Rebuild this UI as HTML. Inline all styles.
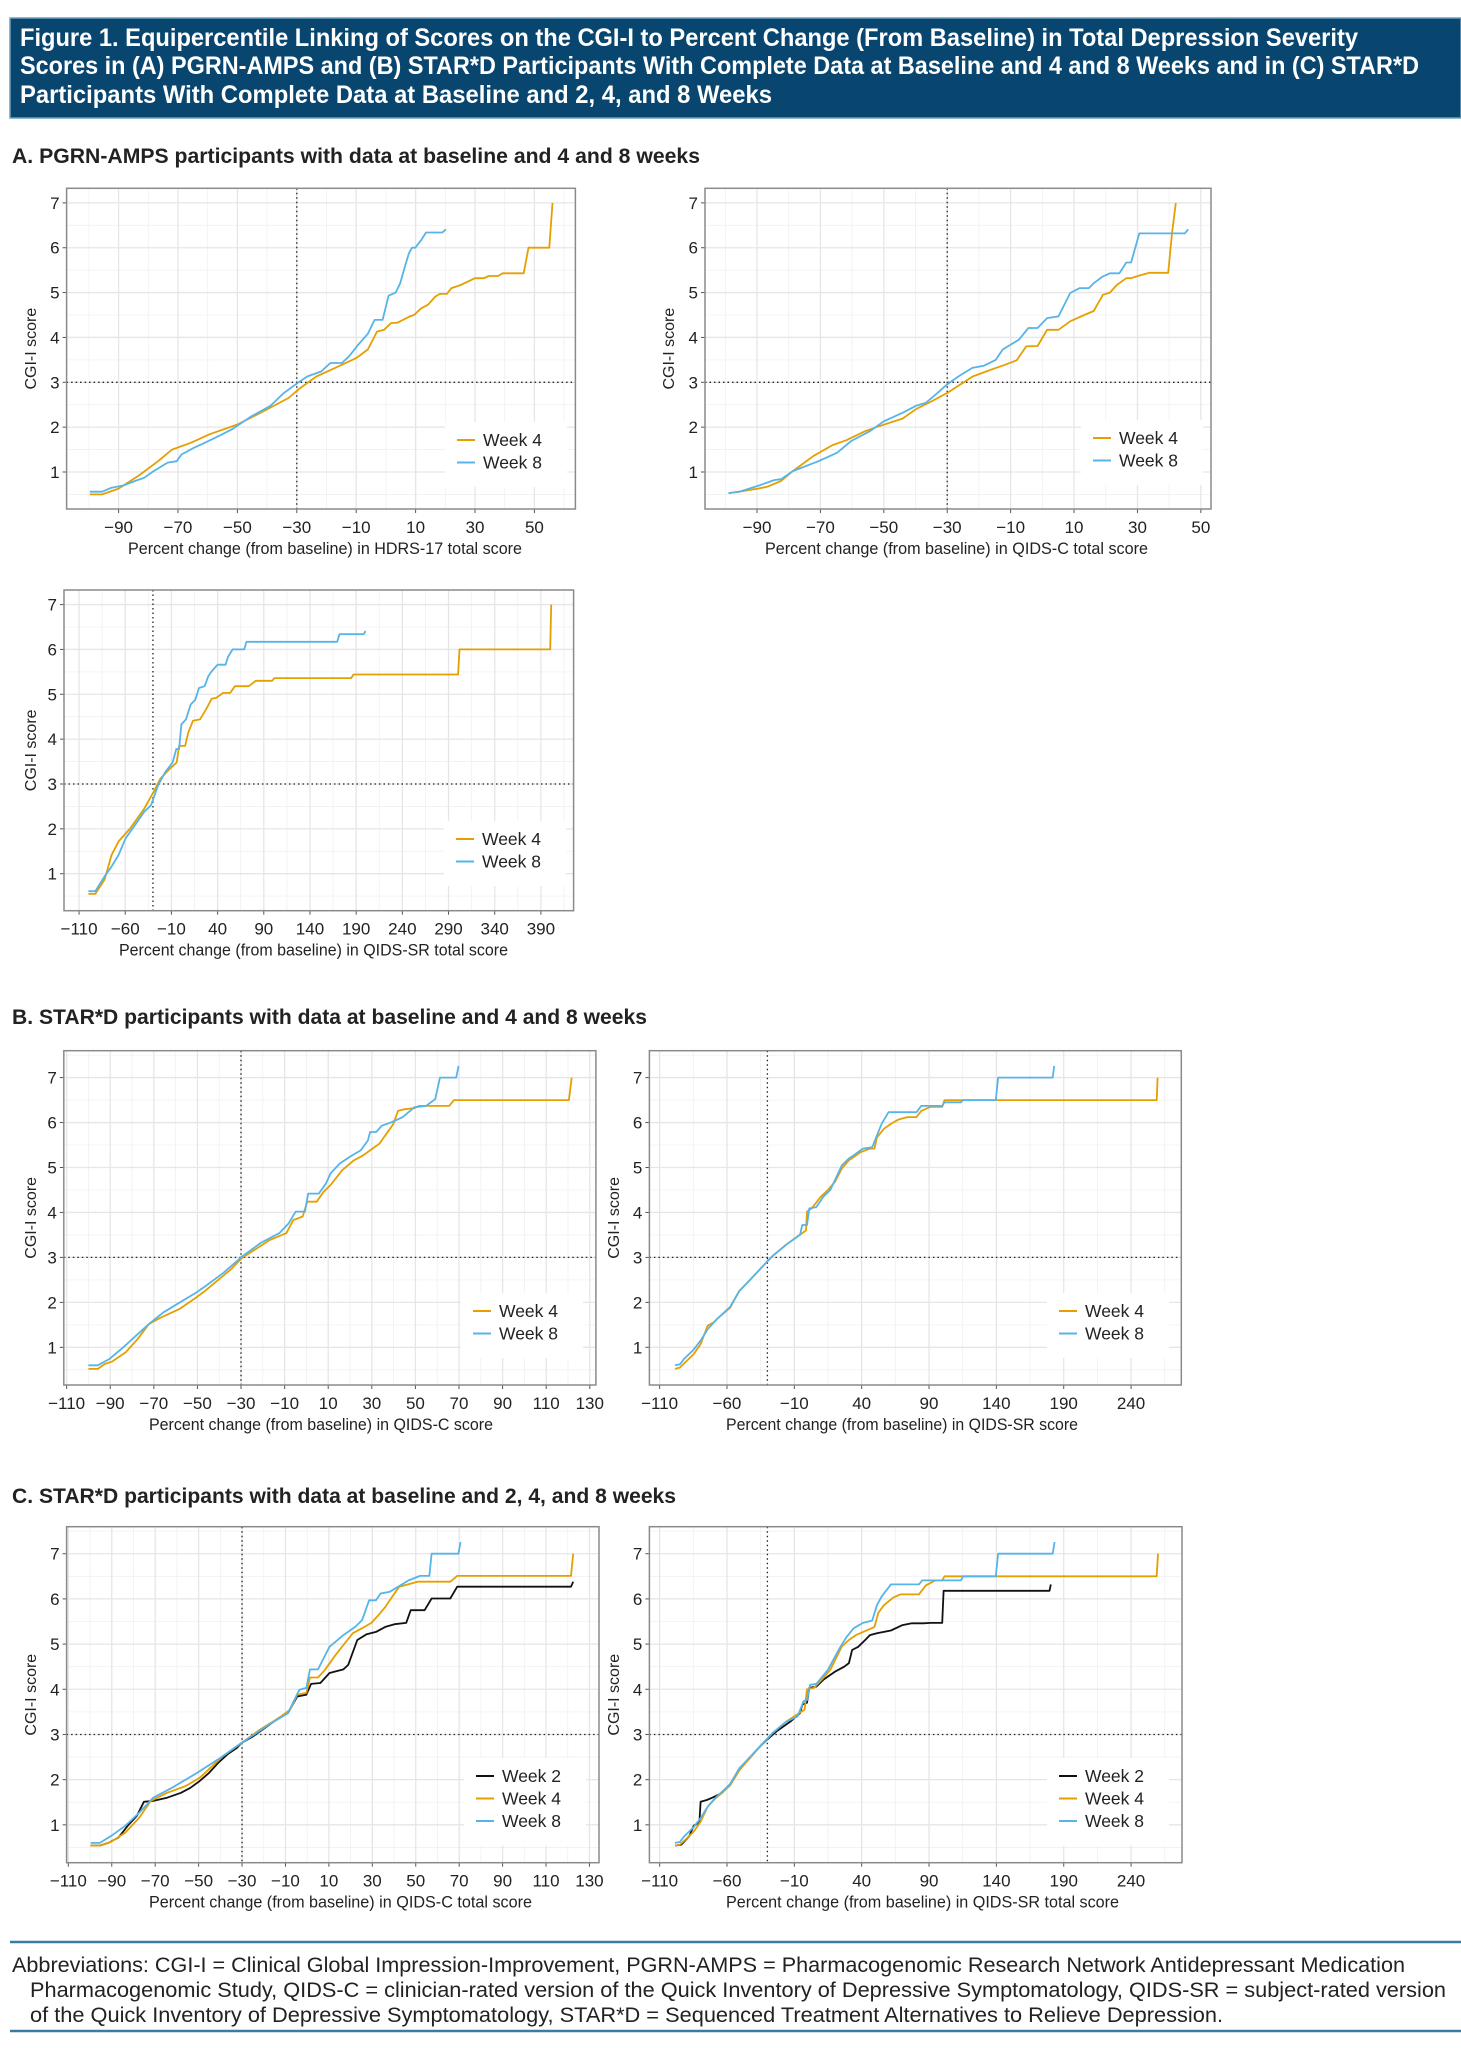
<!DOCTYPE html>
<html><head><meta charset="utf-8">
<style>
html,body{margin:0;padding:0;background:#fff;}
svg{display:block;font-family:"Liberation Sans",sans-serif;}
</style></head>
<body>
<svg id="fig" width="1461" height="2048" viewBox="0 0 1461 2048" xmlns="http://www.w3.org/2000/svg">
<rect x="10" y="18" width="1451" height="100" fill="#08466f" stroke="#6f9fc0" stroke-width="1.5"/>
<g fill="#fff" font-weight="bold" font-size="25">
<text x="20" y="46" textLength="1338" lengthAdjust="spacingAndGlyphs">Figure 1. Equipercentile Linking of Scores on the CGI-I to Percent Change (From Baseline) in Total Depression Severity</text>
<text x="20" y="74" textLength="1399" lengthAdjust="spacingAndGlyphs">Scores in (A) PGRN-AMPS and (B) STAR*D Participants With Complete Data at Baseline and 4 and 8 Weeks and in (C) STAR*D</text>
<text x="20" y="103" textLength="752" lengthAdjust="spacingAndGlyphs">Participants With Complete Data at Baseline and 2, 4, and 8 Weeks</text>
</g>
<text x="12" y="163" font-size="21" font-weight="bold" fill="#222" textLength="688" lengthAdjust="spacingAndGlyphs">A. PGRN-AMPS participants with data at baseline and 4 and 8 weeks</text>
<text x="12" y="1024" font-size="21" font-weight="bold" fill="#222" textLength="635" lengthAdjust="spacingAndGlyphs">B. STAR*D participants with data at baseline and 4 and 8 weeks</text>
<text x="12" y="1503" font-size="21" font-weight="bold" fill="#222" textLength="664" lengthAdjust="spacingAndGlyphs">C. STAR*D participants with data at baseline and 2, 4, and 8 weeks</text>
<line x1="10" y1="1942" x2="1461" y2="1942" stroke="#3b7aa3" stroke-width="2.5"/>
<line x1="10" y1="2031" x2="1461" y2="2031" stroke="#3b7aa3" stroke-width="2.5"/>
<g font-size="21" fill="#222">
<text x="12" y="1972" textLength="1393" lengthAdjust="spacingAndGlyphs">Abbreviations: CGI-I = Clinical Global Impression-Improvement, PGRN-AMPS = Pharmacogenomic Research Network Antidepressant Medication</text>
<text x="30" y="1997" textLength="1416" lengthAdjust="spacingAndGlyphs">Pharmacogenomic Study, QIDS-C = clinician-rated version of the Quick Inventory of Depressive Symptomatology, QIDS-SR = subject-rated version</text>
<text x="30" y="2022" textLength="1193" lengthAdjust="spacingAndGlyphs">of the Quick Inventory of Depressive Symptomatology, STAR*D = Sequenced Treatment Alternatives to Relieve Depression.</text>
</g>
</svg>
<script>
// ---------- DATA ----------
const seriesNames = ["Week 2","Week 4","Week 8"];
const yTicks = [1,2,3,4,5,6,7];
const xTicksA1 = [-90,-70,-50,-30,-10,10,30,50];
const xTicksA3 = [-110,-60,-10,40,90,140,190,240,290,340,390];
const xTicksC = [-110,-90,-70,-50,-30,-10,10,30,50,70,90,110,130];
const xTicksSR = [-110,-60,-10,40,90,140,190,240];

// A1 HDRS-17
const a1w4x = [-99.7,-95.5,-90,-83,-76.7,-72,-65.7,-59.4,-50,-42.2,-32.8,-28.9,-23.4,-17.1,-10,-6.1,-3,-0.6,1.7,4,8,9.5,11.9,14.2,16.6,18.2,20.5,22.1,25.2,30,33,34.6,37.8,39.3,46.4,48,55,56.1];
const a1w4y = [0.5,0.5,0.63,0.93,1.24,1.5,1.65,1.84,2.06,2.32,2.65,2.87,3.13,3.32,3.54,3.73,4.13,4.17,4.32,4.33,4.47,4.5,4.65,4.73,4.91,4.97,4.97,5.1,5.17,5.32,5.32,5.37,5.37,5.43,5.43,6.0,6.0,7.0];
const a1w8x = [-99.7,-95.5,-92.4,-88.4,-84.5,-81.4,-78.2,-73.5,-70.4,-68.8,-64.9,-61,-56.3,-51.6,-45.3,-39,-34.4,-29.6,-26.5,-21.8,-18.7,-14.8,-12.4,-9.3,-6.1,-3.8,-1.1,0.9,3.3,4.8,6.4,7.7,8.8,9.9,11.9,13.5,19,20.2];
const a1w8y = [0.56,0.56,0.65,0.7,0.8,0.87,1.02,1.21,1.24,1.39,1.53,1.65,1.8,1.96,2.24,2.47,2.76,2.99,3.13,3.24,3.43,3.43,3.58,3.84,4.08,4.39,4.39,4.93,5.0,5.21,5.58,5.87,6.0,6.0,6.17,6.34,6.34,6.41];
// A2 QIDS-C
const a2w4x = [-99,-95.6,-89.7,-86.8,-82.4,-78.7,-72.1,-66.2,-61.8,-55.9,-51.5,-44.1,-39.7,-35.3,-30.1,-25,-22,-16.2,-11.8,-8.1,-5.1,-1.5,1.5,5.1,8.8,13.2,16.2,19.1,21.3,23.5,26.5,28,30.1,33.8,39.7,40.9,42.1];
const a2w4y = [0.53,0.56,0.63,0.67,0.8,1.02,1.36,1.6,1.71,1.91,2.02,2.19,2.41,2.56,2.76,2.99,3.13,3.28,3.39,3.49,3.8,3.81,4.17,4.17,4.36,4.5,4.59,4.95,5.0,5.17,5.32,5.32,5.37,5.44,5.44,6.32,7.0];
const a2w8x = [-99,-95.6,-89.7,-84.6,-82.4,-78.7,-70.6,-64.7,-60.3,-54.4,-50,-44.1,-39.7,-36.8,-33.1,-30.1,-26.5,-22.1,-18.4,-14.7,-12.5,-7.4,-4.4,-1.5,1.5,5.1,8.8,11.8,14.7,16.2,19.1,21.3,24.3,26.5,28,30.6,44.9,46];
const a2w8y = [0.53,0.56,0.69,0.82,0.84,1.02,1.24,1.43,1.69,1.91,2.13,2.32,2.48,2.54,2.76,2.95,3.13,3.32,3.37,3.5,3.73,3.95,4.21,4.21,4.43,4.47,4.99,5.1,5.1,5.21,5.36,5.43,5.43,5.67,5.67,6.32,6.32,6.41];
// A3 QIDS-SR
const a3w4x = [-99.9,-92.4,-82.3,-74.8,-67.2,-54.6,-39.5,-29.4,-21.9,-11.8,-4.3,-1.7,4.8,8.3,13.4,20.9,28.5,33.5,38.5,46.1,53.6,58.7,73.8,81.3,99,101.5,184.6,187.1,300.4,301.9,400.1,401.1];
const a3w4y = [0.55,0.55,0.87,1.42,1.72,2.01,2.45,2.82,3.12,3.34,3.48,3.85,3.85,4.15,4.41,4.44,4.7,4.9,4.92,5.03,5.03,5.18,5.18,5.3,5.3,5.36,5.36,5.44,5.44,6.0,6.0,7.0];
const a3w8x = [-99.9,-92.4,-82.3,-74.8,-67.2,-59.6,-49.6,-39.5,-32,-24.4,-16.8,-8.7,-4.7,-1.7,0.8,5.8,10.8,15.9,19.9,25.9,29.9,33.5,40,48.6,51.1,56.2,68.8,71.3,169.5,172,198.2,200.2];
const a3w8y = [0.61,0.61,0.94,1.16,1.42,1.79,2.08,2.38,2.53,2.97,3.26,3.48,3.78,3.78,4.33,4.44,4.77,4.88,5.14,5.18,5.4,5.51,5.66,5.66,5.83,6.0,6.0,6.17,6.17,6.34,6.34,6.41];
// B1 QIDS-C
const b1w4x = [-100,-95.7,-92.5,-89.3,-82.9,-77.5,-72.2,-66.9,-58.3,-50.8,-46.6,-40.2,-34.8,-29.5,-23.1,-16.7,-9.2,-6,-1.7,0.4,4.7,7.9,11.1,16.4,21.8,26,29.2,33.5,36.7,39.9,42,45.2,49.5,51.6,65.5,67.7,120.4,121.7];
const b1w4y = [0.52,0.52,0.63,0.68,0.89,1.18,1.52,1.66,1.85,2.1,2.25,2.51,2.73,2.99,3.19,3.39,3.54,3.83,3.91,4.24,4.24,4.46,4.61,4.94,5.16,5.27,5.38,5.53,5.75,5.97,6.26,6.3,6.32,6.37,6.37,6.5,6.5,7.0];
const b1w8x = [-100,-95.7,-90.4,-84,-77.5,-72.2,-65.8,-59.4,-50.8,-46.6,-38,-29.5,-21,-12.4,-8.1,-4.9,-0.7,0.8,5.7,8.9,11.1,15.3,19.6,24.9,28.2,29.2,32,34.6,38.8,44.2,49.5,54.9,59.1,61.3,68.7,69.8];
const b1w8y = [0.6,0.6,0.74,1.0,1.29,1.52,1.77,1.96,2.21,2.35,2.66,3.02,3.32,3.54,3.76,4.02,4.02,4.42,4.42,4.64,4.87,5.09,5.23,5.38,5.6,5.79,5.79,5.93,6.0,6.12,6.34,6.37,6.52,7.0,7.0,7.26];
// B2 QIDS-SR
const b2w4x = [-98.6,-95,-91.6,-84.7,-79.6,-74.4,-70,-67.4,-57.7,-50.9,-43.9,-33.5,-26.6,-16.2,-7.6,-4.1,-1.3,-0.6,2.8,9.7,14.9,20.1,25.3,30.5,34,39.2,46.1,49.5,51.3,56.5,61.7,66.9,73.8,80.7,84.2,91.1,99.8,101.5,259,259.7];
const b2w4y = [0.52,0.55,0.65,0.85,1.07,1.48,1.55,1.63,1.88,2.25,2.47,2.8,3.02,3.28,3.47,3.54,3.6,4.02,4.09,4.35,4.5,4.68,4.98,5.16,5.23,5.34,5.42,5.42,5.67,5.86,5.97,6.06,6.12,6.12,6.26,6.35,6.35,6.5,6.5,7.0];
const b2w8x = [-98.6,-95,-91.6,-84.7,-79.6,-74.4,-67.4,-57.7,-50.9,-43.9,-33.5,-26.6,-16.2,-5.8,-4.1,-0.6,1.1,6.3,11.5,16.7,25.3,30.5,34,40.9,47.8,51.3,54.8,59.9,80.7,84.2,99.8,101.5,113.6,115.3,139.6,141.3,181.8,182.9];
const b2w8y = [0.6,0.62,0.75,0.95,1.15,1.4,1.63,1.9,2.25,2.47,2.8,3.02,3.28,3.5,3.72,3.72,4.09,4.12,4.35,4.5,5.05,5.2,5.27,5.42,5.45,5.71,5.97,6.23,6.23,6.37,6.37,6.45,6.45,6.5,6.5,7.0,7.0,7.26];
// C1 QIDS-C
const c1w2x = [-99.7,-95.5,-91.2,-86.9,-82.6,-78.4,-75.2,-70.9,-64.5,-58.1,-53.8,-49.5,-45.2,-41,-36.7,-32.4,-30.3,-24.9,-19.6,-13.2,-8.9,-4.6,-0.4,1.8,6.1,10.3,16.7,18.9,23.1,27.4,31.7,36,40.2,45.6,47.7,54.1,57.3,65.9,69.1,121.5,122.5];
const c1w2y = [0.54,0.54,0.61,0.72,0.98,1.2,1.51,1.53,1.6,1.71,1.82,1.97,2.15,2.37,2.56,2.7,2.81,2.96,3.14,3.36,3.47,3.84,3.88,4.12,4.14,4.36,4.44,4.54,5.09,5.22,5.27,5.38,5.44,5.47,5.75,5.75,6.01,6.01,6.27,6.27,6.38];
const c1w4x = [-99.7,-95.5,-90.1,-83.7,-77.3,-72,-64.5,-55.9,-49.5,-38.8,-30.3,-21.7,-13.2,-7.8,-4.6,-0.4,1.3,5,8.2,12.5,16.7,21,26.4,29.6,32.8,36,39.2,42.4,50.9,65.9,69.1,121.5,122.5];
const c1w4y = [0.54,0.54,0.63,0.83,1.16,1.53,1.71,1.86,2.04,2.52,2.81,3.11,3.36,3.55,3.88,3.92,4.26,4.26,4.43,4.72,4.98,5.24,5.38,5.47,5.64,5.82,6.05,6.27,6.38,6.38,6.51,6.51,7.0];
const c1w8x = [-99.7,-95.5,-90.1,-83.7,-77.3,-70.9,-62.3,-51.7,-41,-30.3,-17.5,-8.9,-3.6,-0.4,1.3,5,10.3,16.7,22.1,25.3,28.5,31.7,33.8,38.1,46.7,52,56.3,57.3,69.7,70.6];
const c1w8y = [0.6,0.6,0.76,0.98,1.27,1.6,1.82,2.12,2.45,2.81,3.22,3.47,3.99,4.03,4.44,4.44,4.94,5.2,5.38,5.53,5.97,5.97,6.12,6.16,6.41,6.51,6.51,7.0,7.0,7.26];
// C2 QIDS-SR
const c2w2x = [-98.6,-94,-88,-84.7,-80.5,-79.6,-75,-70.9,-64,-57.7,-50.9,-43.9,-38.7,-35.3,-30.1,-23.2,-12.8,-5.8,-4.1,-0.6,1.1,6.3,11.5,20.1,27,30.5,32.9,37.4,42.6,46.1,51.3,61.7,70.3,77.3,85.9,91.1,99.8,100.8,179.4,180.4];
const c2w2y = [0.54,0.56,0.75,0.98,1.05,1.51,1.55,1.6,1.7,1.9,2.23,2.45,2.63,2.74,2.89,3.07,3.29,3.47,3.66,3.7,4.03,4.06,4.21,4.39,4.5,4.58,4.87,4.94,5.09,5.2,5.24,5.3,5.42,5.46,5.46,5.47,5.47,6.18,6.18,6.32];
const c2w4x = [-98.6,-95,-91.6,-84.7,-79.6,-74.4,-70,-64,-57.7,-50.9,-43.9,-33.5,-26.6,-16.2,-7.6,-2.4,-0.6,4.5,11.5,16.7,25.3,30.5,35.7,44.3,49.5,52.3,56.5,63.4,68.6,82.5,87.6,94.6,99.8,101.5,259,260];
const c2w4y = [0.54,0.56,0.65,0.85,1.07,1.4,1.55,1.7,1.87,2.2,2.45,2.8,3.02,3.28,3.45,3.55,4.0,4.03,4.25,4.43,4.95,5.09,5.2,5.31,5.38,5.69,5.86,6.03,6.1,6.1,6.3,6.41,6.41,6.5,6.5,7.0];
const c2w8x = [-98.6,-95,-91.6,-84.7,-79.6,-74.4,-67.4,-57.7,-50.9,-43.9,-33.5,-26.6,-16.2,-7.6,-3.1,-0.6,1.8,6.3,14.9,23.6,28.8,34,40.9,47.8,51.3,54.8,61.7,82.5,84.9,113.6,115.3,139.6,141.3,181.8,183.2];
const c2w8y = [0.6,0.62,0.75,0.95,1.15,1.4,1.63,1.9,2.25,2.47,2.8,3.02,3.28,3.4,3.74,3.76,4.1,4.12,4.43,4.91,5.16,5.35,5.47,5.52,5.86,6.05,6.32,6.32,6.41,6.41,6.5,6.5,7.0,7.0,7.26];

// ---------- DRAWING ----------
const NS = "http://www.w3.org/2000/svg";
const svg = document.getElementById("fig");
const COLORS = {"Week 2":"#111111","Week 4":"#E69F00","Week 8":"#56B4E9"};

function mk(tag, attrs, parent){
  const e = document.createElementNS(NS, tag);
  for (const k in attrs) e.setAttribute(k, attrs[k]);
  (parent||svg).appendChild(e);
  return e;
}

function panel(p){
  const g = mk("g", {});
  
  
  const sx = v => p.x0 + (v - p.xd[0]) / (p.xd[1]-p.xd[0]) * (p.x1-p.x0);
  const sy = v => p.y1 - (v - p.yd[0]) / (p.yd[1]-p.yd[0]) * (p.y1-p.y0);
  mk("rect", {x:p.x0, y:p.y0, width:p.x1-p.x0, height:p.y1-p.y0, fill:"#fff"}, g);
  const step = p.xt[1]-p.xt[0];
  for (let v = p.xt[0]-step/2; v <= p.xd[1]; v += step){
    if (v < p.xd[0]) continue;
    mk("line", {x1:sx(v), x2:sx(v), y1:p.y0, y2:p.y1, stroke:"#f0f0f0", "stroke-width":0.8}, g);
  }
  for (let v = 0.5; v <= p.yd[1]; v += 1){
    if (v < p.yd[0]) continue;
    mk("line", {x1:p.x0, x2:p.x1, y1:sy(v), y2:sy(v), stroke:"#f0f0f0", "stroke-width":0.8}, g);
  }
  p.xt.forEach(v => {
    if (v < p.xd[0] || v > p.xd[1]) return;
    mk("line", {x1:sx(v), x2:sx(v), y1:p.y0, y2:p.y1, stroke:"#e6e6e6", "stroke-width":1.3}, g);
    mk("line", {x1:sx(v), x2:sx(v), y1:p.y1, y2:p.y1+4, stroke:"#555", "stroke-width":1}, g);
    const t = mk("text", {x:sx(v), y:p.y1+24, "text-anchor":"middle", "font-size":17, fill:"#222"}, g);
    
    
    t.textContent = v < 0 ? "\u2212" + Math.abs(v) : String(v);
  });
  yTicks.forEach(v => {
    mk("line", {x1:p.x0, x2:p.x1, y1:sy(v), y2:sy(v), stroke:"#e6e6e6", "stroke-width":1.3}, g);
    mk("line", {x1:p.x0-4, x2:p.x0, y1:sy(v), y2:sy(v), stroke:"#555", "stroke-width":1}, g);
    const t = mk("text", {x:p.x0-7, y:sy(v)+6, "text-anchor":"end", "font-size":17, fill:"#222"}, g);
    
    
    t.textContent = String(v);
  });
  const rv = mk("line", {x1:sx(-30), x2:sx(-30), y1:p.y0, y2:p.y1, stroke:"#222", "stroke-width":1.3, "stroke-dasharray":"1.5 3"}, g);
  
  
  const rh = mk("line", {x1:p.x0, x2:p.x1, y1:sy(3), y2:sy(3), stroke:"#222", "stroke-width":1.3, "stroke-dasharray":"1.5 3"}, g);
  
  
  const n = p.series.length;
  const lh = 22.5;
  const lgTop = p.legY - 18;
  const lb = mk("rect", {x:p.legX-12, y:lgTop, width:122, height:n*lh+20, fill:"#fff"}, g);
  
  
  p.series.forEach((s, i) => {
    const pts = s.x.map((xv, j) => sx(xv).toFixed(1) + "," + sy(s.y[j]).toFixed(1)).join(" ");
    const pl = mk("polyline", {points:pts, fill:"none", stroke:COLORS[s.label], "stroke-width":1.8, "stroke-linejoin":"round"}, g);
    
    
    const ly = p.legY + i*lh;
    const ll = mk("line", {x1:p.legX, x2:p.legX+18, y1:ly, y2:ly, stroke:COLORS[s.label], "stroke-width":2}, g);
    
    
    const lt = mk("text", {x:p.legX+26, y:ly+6, "font-size":17.5, fill:"#222"}, g);
    
    
    lt.textContent = s.label;
  });
  mk("rect", {x:p.x0, y:p.y0, width:p.x1-p.x0, height:p.y1-p.y0, fill:"none", stroke:"#8a8a8a", "stroke-width":1.5}, g);
  const xt = mk("text", {x:(p.xl0+p.xl1)/2, y:p.y1+45, "text-anchor":"middle", "font-size":16.5, fill:"#222", textLength:p.xl1-p.xl0, lengthAdjust:"spacingAndGlyphs"}, g);
  
  
  xt.textContent = p.xlabel;
  const cy = (p.y0+p.y1)/2;
  const yt = mk("text", {x:p.yTitleX, y:cy, "text-anchor":"middle", "font-size":16, fill:"#222", transform:"rotate(-90 "+p.yTitleX+" "+cy+")"}, g);
  
  
  yt.textContent = "CGI-I score";
}

const ydA = [0.175, 7.325];
const ydB = [0.162, 7.598];

panel({name:"panel-a-hdrs17", x0:66.6, x1:575.4, y0:188.3, y1:509, xd:[-107.5,63.8], yd:ydA, xt:xTicksA1,
  xlabel:"Percent change (from baseline) in HDRS-17 total score", xl0:128, xl1:522, yTitleX:36, legX:457, legY:440,
  series:[{label:seriesNames[1], x:a1w4x, y:a1w4y},{label:seriesNames[2], x:a1w8x, y:a1w8y}]});
panel({name:"panel-a-qids-c", x0:705, x1:1211, y0:188.3, y1:509, xd:[-106.4,53.2], yd:ydA, xt:xTicksA1,
  xlabel:"Percent change (from baseline) in QIDS-C total score", xl0:765, xl1:1148, yTitleX:674, legX:1093, legY:438,
  series:[{label:seriesNames[1], x:a2w4x, y:a2w4y},{label:seriesNames[2], x:a2w8x, y:a2w8y}]});
panel({name:"panel-a-qids-sr", x0:64, x1:573.6, y0:590, y1:910.7, xd:[-126.3,425.4], yd:ydA, xt:xTicksA3,
  xlabel:"Percent change (from baseline) in QIDS-SR total score", xl0:119, xl1:508, yTitleX:36, legX:456, legY:839,
  series:[{label:seriesNames[1], x:a3w4x, y:a3w4y},{label:seriesNames[2], x:a3w8x, y:a3w8y}]});
panel({name:"panel-b-qids-c", x0:63.8, x1:595.9, y0:1050.7, y1:1385, xd:[-111.3,132.8], yd:ydB, xt:xTicksC,
  xlabel:"Percent change (from baseline) in QIDS-C score", xl0:149, xl1:493, yTitleX:36, legX:473, legY:1311,
  series:[{label:seriesNames[1], x:b1w4x, y:b1w4y},{label:seriesNames[2], x:b1w8x, y:b1w8y}]});
panel({name:"panel-b-qids-sr", x0:649.4, x1:1181.3, y0:1050.7, y1:1385, xd:[-117.6,277.3], yd:ydB, xt:xTicksSR,
  xlabel:"Percent change (from baseline) in QIDS-SR score", xl0:726, xl1:1078, yTitleX:619, legX:1059, legY:1311,
  series:[{label:seriesNames[1], x:b2w4x, y:b2w4y},{label:seriesNames[2], x:b2w8x, y:b2w8y}]});
panel({name:"panel-c-qids-c", x0:66.6, x1:599, y0:1526.7, y1:1862.7, xd:[-110.8,134.4], yd:ydB, xt:xTicksC,
  xlabel:"Percent change (from baseline) in QIDS-C total score", xl0:149, xl1:532, yTitleX:36, legX:476, legY:1776,
  series:[{label:seriesNames[0], x:c1w2x, y:c1w2y},{label:seriesNames[1], x:c1w4x, y:c1w4y},{label:seriesNames[2], x:c1w8x, y:c1w8y}]});
panel({name:"panel-c-qids-sr", x0:649.4, x1:1182, y0:1526.7, y1:1862.7, xd:[-117.6,277.8], yd:ydB, xt:xTicksSR,
  xlabel:"Percent change (from baseline) in QIDS-SR total score", xl0:726, xl1:1119, yTitleX:619, legX:1059, legY:1776,
  series:[{label:seriesNames[0], x:c2w2x, y:c2w2y},{label:seriesNames[1], x:c2w4x, y:c2w4y},{label:seriesNames[2], x:c2w8x, y:c2w8y}]});
</script>
</body></html>
